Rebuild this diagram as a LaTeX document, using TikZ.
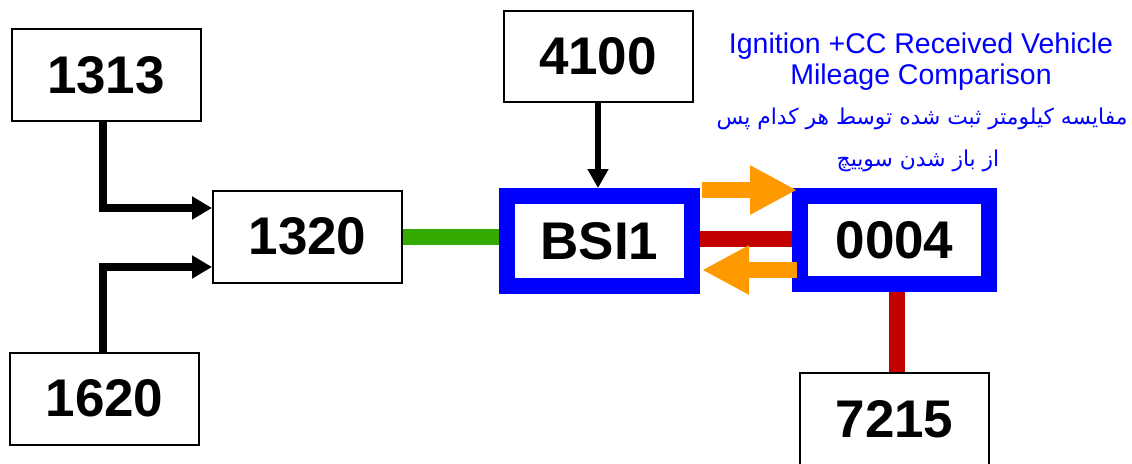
\documentclass[tikz,border=0pt]{standalone}
\usepackage{fontspec}
\setmainfont{Liberation Sans}
\newfontfamily\arabicfont[Script=Arabic]{DejaVu Sans}
\TeXXeTstate=1
\usetikzlibrary{arrows.meta,calc,backgrounds}
\definecolor{bblue}{RGB}{0,0,255}
\definecolor{cgreen}{RGB}{51,170,0}
\definecolor{cred}{RGB}{195,0,0}
\definecolor{corange}{RGB}{255,153,0}
\newcommand{\numtxt}[1]{{\fontsize{53}{53}\selectfont\bfseries #1}}
\begin{document}
\begin{tikzpicture}[x=1pt,y=-1pt,
  plainbox/.style={draw=black,line width=2pt,fill=white,minimum width=189pt,minimum height=92pt,inner sep=0pt},
  bluebox/.style={draw=bblue,line width=16pt,fill=white,inner sep=0pt},
  blackarrow/.style={line width=8pt,-{Triangle[length=20pt,width=22pt]}},
  thinarrow/.style={line width=6pt,-{Triangle[length=19pt,width=20pt]}},
  greenlink/.style={cgreen,line width=16pt},
  redlink/.style={cred,line width=16pt},
  orangearrow/.style={corange,line width=16pt,-{Triangle[length=47pt,width=46pt]}},
  bluetext/.style={text=bblue,font=\fontsize{28.5}{30}\selectfont,inner sep=0pt},
  fatext/.style={text=bblue,font=\arabicfont\fontsize{21.8}{24}\selectfont,inner sep=0pt}
]
\useasboundingbox (0,0) rectangle (1132,463);

\node[plainbox] (n1313) at (106,75) {\numtxt{1313}};
\node[plainbox] (n1320) at (307.5,236.5) {\numtxt{1320}};
\node[plainbox] (n1620) at (104.5,398.5) {\numtxt{1620}};
\node[plainbox,minimum height=91pt] (n4100) at (598,56.5) {\numtxt{4100}};
\node[bluebox,minimum width=185pt,minimum height=90pt] (bsi) at (599.5,241) {\numtxt{BSI1}};
\node[bluebox,minimum width=189pt,minimum height=88pt] (n0004) at (894.5,240) {\numtxt{0004}};
\node[plainbox,minimum height=93pt] (n7215) at (894.5,419.5) {\numtxt{7215}};

\begin{scope}[on background layer]
\fill[white] (0,0) rectangle (1132,463);
\draw[greenlink] (n1320.east) -- (n1320.east -| bsi.west);
\draw[redlink] ([yshift=2.5pt]bsi.east) -- ([yshift=2.5pt]bsi.east -| n0004.west);
\draw[redlink] ([xshift=2.5pt]n0004.south) -- ([xshift=2.5pt]n0004.south |- n7215.north);
\end{scope}

\draw[blackarrow] ([xshift=-3pt]n1313.south) |- ([yshift=28.5pt]n1320.west);
\draw[blackarrow] ([xshift=-1.5pt]n1620.north) |- ([yshift=-30.5pt]n1320.west);
\draw[thinarrow] (n4100.south) -- (n4100.south |- bsi.north);

\coordinate (oaS) at ($(bsi.east)+(2,-51)$);
\coordinate (oaE) at ($(n0004.west)+(5,-50)$);
\coordinate (obS) at ($(n0004.west)+(5,30)$);
\coordinate (obE) at ($(bsi.east)+(2,29)$);
\draw[orangearrow] (oaS) -- (oaE);
\draw[orangearrow] (obS) -- (obE);

\node[bluetext] (t1) at (921,46) {Ignition +CC Received Vehicle};
\node[bluetext] (t2) at (921,77) {Mileage Comparison};
\node[fatext] (t3) at (922,119) {\beginR مفایسه کیلومتر ثبت شده توسط هر کدام پس\endR};
\node[fatext] (t4) at (918,161) {\beginR از باز شدن سوییچ\endR};
\end{tikzpicture}
\end{document}
